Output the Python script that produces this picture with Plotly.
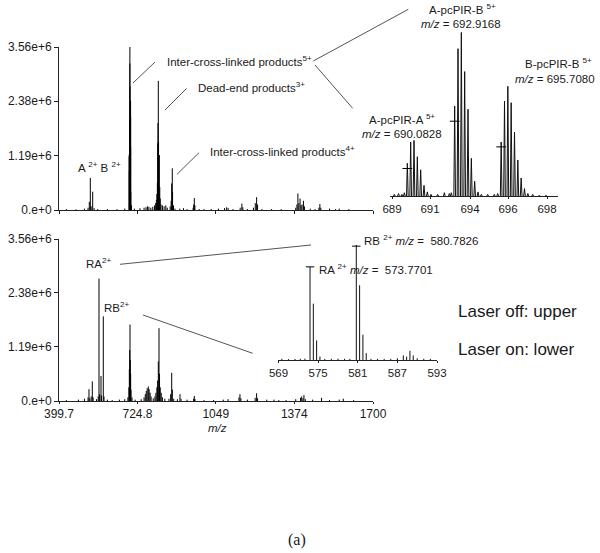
import plotly.graph_objects as go

W, H = 600, 553

# ---------------- DATA ----------------
# Upper main spectrum (laser off): m/z and intensity
UP_MZ = [430, 470, 505, 520, 525.2, 529.3, 533, 539.2, 545, 560, 600, 640, 672,
         690.3, 690.5, 690.7, 692.9, 693.1, 693.3, 693.5, 693.7, 695.7, 695.9, 696.1, 696.3, 696.5, 697.0, 700,
         712, 735, 752, 760, 766, 772, 780, 788, 795, 800, 803, 805, 807, 808.4, 809.5, 810.9, 812, 813.5, 815, 817,
         819, 822, 828, 835, 842, 848, 860, 864, 866.3, 868.8, 870, 873.8, 880, 900, 915, 930, 955, 957.5, 960,
         962.5, 980, 1000, 1030, 1060, 1085, 1094, 1100, 1120, 1150, 1157, 1161, 1180, 1205, 1212.5, 1218, 1222,
         1240, 1280, 1320, 1380, 1385, 1389, 1393, 1398, 1402, 1406, 1412, 1416, 1440, 1460, 1476, 1480, 1484,
         1520, 1545, 1560, 1600]
UP_INT = [0.02e6, 0.015e6, 0.03e6, 0.05e6, 0.18e6, 0.70e6, 0.08e6, 0.40e6, 0.04e6, 0.02e6, 0.02e6, 0.02e6, 0.03e6,
          1.17e6, 1.21e6, 0.85e6, 1.96e6, 3.20e6, 3.56e6, 2.70e6, 1.89e6, 1.17e6, 2.06e6, 2.39e6, 2.03e6, 1.39e6, 0.40e6, 0.10e6,
          0.03e6, 0.04e6, 0.05e6, 0.06e6, 0.08e6, 0.07e6, 0.05e6, 0.07e6, 0.10e6, 0.15e6, 0.22e6, 0.35e6, 0.60e6, 1.46e6, 1.90e6, 2.82e6, 1.50e6, 1.20e6, 1.20e6, 0.50e6,
          0.25e6, 0.12e6, 0.10e6, 0.08e6, 0.10e6, 0.05e6, 0.08e6, 0.20e6, 0.58e6, 0.91e6, 0.40e6, 0.10e6, 0.03e6, 0.03e6, 0.04e6, 0.02e6, 0.05e6, 0.12e6, 0.26e6,
          0.10e6, 0.02e6, 0.02e6, 0.02e6, 0.03e6, 0.04e6, 0.06e6, 0.04e6, 0.02e6, 0.05e6, 0.14e6, 0.06e6, 0.02e6, 0.05e6, 0.15e6, 0.28e6, 0.12e6,
          0.02e6, 0.02e6, 0.02e6, 0.05e6, 0.12e6, 0.36e6, 0.15e6, 0.25e6, 0.10e6, 0.12e6, 0.20e6, 0.08e6, 0.03e6, 0.02e6, 0.05e6, 0.13e6, 0.05e6,
          0.03e6, 0.02e6, 0.03e6, 0.02e6]

# Lower main spectrum (laser on)
LO_MZ = [430, 480, 505, 520, 523.9, 527, 533, 537.6, 541, 555, 562, 565.3, 568, 573.6, 576, 583.1, 586, 600, 620, 650,
         672, 685, 689, 691, 692.5, 693.7, 695, 696.5, 698, 702, 715, 740, 752, 757, 761, 765, 769.5, 773, 777, 781,
         790, 797, 801, 805, 808, 811, 813.8, 816, 819, 823, 828, 838, 855, 862, 866.4, 869, 875, 890, 900.7, 905,
         930, 957, 960, 963, 1000, 1040, 1080, 1100, 1145, 1149, 1153, 1180, 1212, 1218, 1222, 1260, 1290, 1310,
         1340, 1380, 1400, 1404.7, 1410, 1414, 1420, 1450, 1487, 1520, 1560, 1577, 1620]
LO_INT = [0.02e6, 0.03e6, 0.05e6, 0.08e6, 0.26e6, 0.06e6, 0.10e6, 0.43e6, 0.08e6, 0.04e6, 0.10e6, 2.69e6, 0.15e6, 0.55e6, 0.12e6, 1.86e6, 0.10e6, 0.03e6, 0.02e6, 0.03e6,
          0.04e6, 0.08e6, 0.30e6, 0.70e6, 1.12e6, 1.68e6, 0.90e6, 0.60e6, 0.25e6, 0.08e6, 0.03e6, 0.04e6, 0.08e6, 0.15e6, 0.22e6, 0.28e6, 0.32e6, 0.26e6, 0.18e6, 0.10e6,
          0.06e6, 0.10e6, 0.18e6, 0.30e6, 0.45e6, 0.87e6, 1.60e6, 0.60e6, 0.30e6, 0.18e6, 0.08e6, 0.05e6, 0.05e6, 0.15e6, 0.62e6, 0.25e6, 0.05e6, 0.04e6, 0.15e6, 0.05e6,
          0.03e6, 0.05e6, 0.11e6, 0.04e6, 0.02e6, 0.02e6, 0.03e6, 0.04e6, 0.08e6, 0.15e6, 0.06e6, 0.03e6, 0.07e6, 0.17e6, 0.06e6, 0.03e6, 0.03e6, 0.02e6,
          0.02e6, 0.04e6, 0.07e6, 0.10e6, 0.06e6, 0.13e6, 0.04e6, 0.03e6, 0.07e6, 0.02e6, 0.03e6, 0.05e6, 0.02e6]

# Upper inset: zoom of the 5+ cross-linked products (relative intensity %)
INS_UP_MZ = [689.3, 689.55, 689.75, 689.9, 690.08, 690.28, 690.48, 690.68, 690.88, 691.08, 691.28, 691.5, 691.9,
             692.3, 692.6, 692.72, 692.92, 693.12, 693.32, 693.52, 693.72, 693.92, 694.12, 694.32, 694.52, 694.9,
             695.3, 695.5, 695.71, 695.91, 696.11, 696.31, 696.51, 696.71, 696.91, 697.11, 697.31, 697.6, 698.0, 698.4]
INS_UP_INT = [1, 1.5, 1, 2, 20, 33, 34, 24, 16, 6.5, 2.5, 1, 1,
              2, 1.5, 2, 55, 90, 100, 76, 53, 23, 9, 2.5, 1, 1,
              1, 1.5, 33, 58, 67, 57, 39, 22, 11, 4.5, 1.5, 1, 0.5, 0.5]
INS_UP_MONO_MZ = [690.08, 692.92, 695.71]
INS_UP_MONO_INT = [16.8, 45.7, 30]
INS_UP_TICKVALS = [689.16, 691.44, 693.84, 696.12, 698.46]
INS_UP_TICKTEXT = ["689", "691", "694", "696", "698"]

# Lower inset: zoom of released peptides RA / RB (relative intensity %)
INS_LO_MZ = [569.5, 570.5, 571.5, 572.3, 573.0, 573.77, 574.27, 574.77, 575.27, 576.0, 577.0, 578.0, 579.0, 579.8,
             580.78, 581.28, 581.78, 582.28, 583.0, 584.0, 585.0, 586.0, 587.0, 587.9, 588.4, 588.9, 589.4, 590.0,
             591.0, 592.0]
INS_LO_INT = [1, 0.8, 1, 1, 1.2, 81, 49, 17, 3, 1, 1, 1.2, 1, 1,
              100, 65, 22, 6, 1, 1, 1, 1, 1.5, 4, 3, 8, 4, 1.5, 1, 1]
INS_LO_MONO_MZ = [573.77, 580.78]
INS_LO_MONO_INT = [81, 99]
INS_LO_TICKS = [569, 575, 581, 587, 593]

MAIN_XTICKS = [399.7, 724.8, 1049, 1374, 1700]
MAIN_XTEXT = ["399.7", "724.8", "1049", "1374", "1700"]
MAIN_YTICKS = [0, 1.19e6, 2.38e6, 3.56e6]
MAIN_YTEXT = ["0.e+0", "1.19e+6", "2.38e+6", "3.56e+6"]

# ---------------- HELPERS ----------------
def sticks(mz, inten):
    xs, ys = [], []
    for m, h in zip(mz, inten):
        xs += [m, m, None]
        ys += [0, h, None]
    return xs, ys

def spikes(mz, inten, hw):
    xs, ys = [], []
    for m, h in zip(mz, inten):
        xs += [m - hw, m, m + hw, None]
        ys += [0, h, 0, None]
    return xs, ys

def dx(px):
    return px / W

def dy(py):
    return 1 - py / H

FONT = "Liberation Sans, Arial, sans-serif"
TXT = "#1a1a1a"
AX = "#222222"

fig = go.Figure()

x, y = sticks(UP_MZ, UP_INT)
fig.add_trace(go.Scatter(x=x, y=y, mode="lines", line=dict(color="black", width=1),
                         xaxis="x", yaxis="y", hoverinfo="skip", showlegend=False))
x, y = sticks(LO_MZ, LO_INT)
fig.add_trace(go.Scatter(x=x, y=y, mode="lines", line=dict(color="black", width=1),
                         xaxis="x2", yaxis="y2", hoverinfo="skip", showlegend=False))
x, y = spikes(INS_UP_MZ, INS_UP_INT, 0.05)
fig.add_trace(go.Scatter(x=x, y=y, mode="lines", line=dict(color="#111111", width=1),
                         xaxis="x3", yaxis="y3", hoverinfo="skip", showlegend=False))
fig.add_trace(go.Scatter(x=INS_UP_MONO_MZ, y=INS_UP_MONO_INT, mode="markers",
                         marker=dict(symbol="line-ew", size=7, line=dict(color="black", width=1)),
                         xaxis="x3", yaxis="y3", hoverinfo="skip", showlegend=False))
x, y = sticks(INS_LO_MZ, INS_LO_INT)
fig.add_trace(go.Scatter(x=x, y=y, mode="lines", line=dict(color="#111111", width=1),
                         xaxis="x4", yaxis="y4", hoverinfo="skip", showlegend=False))
fig.add_trace(go.Scatter(x=INS_LO_MONO_MZ, y=INS_LO_MONO_INT, mode="markers",
                         marker=dict(symbol="line-ew", size=6, line=dict(color="black", width=1)),
                         xaxis="x4", yaxis="y4", hoverinfo="skip", showlegend=False))

axis_common = dict(showgrid=False, zeroline=False, showline=True, linecolor=AX, linewidth=1,
                   automargin=False,
                   ticks="outside", tickcolor=AX, tickfont=dict(family=FONT, size=12, color=TXT))

layout = dict(
    template="none",
    width=W, height=H, margin=dict(l=0, r=0, t=0, b=0, pad=0, autoexpand=False),
    paper_bgcolor="white", plot_bgcolor="rgba(0,0,0,0)", showlegend=False,
    xaxis=dict(axis_common, domain=[dx(59), dx(373)], range=[399.7, 1700], anchor="y",
               tickvals=MAIN_XTICKS, showticklabels=False, ticklen=3),
    yaxis=dict(axis_common, domain=[dy(210), dy(47)], range=[0, 3.56e6], anchor="x",
               tickvals=MAIN_YTICKS, ticktext=MAIN_YTEXT, ticklen=4),
    xaxis2=dict(axis_common, domain=[dx(59), dx(373)], range=[399.7, 1700], anchor="y2",
                tickvals=MAIN_XTICKS, ticktext=MAIN_XTEXT, ticklen=2),
    yaxis2=dict(axis_common, domain=[dy(401), dy(239)], range=[0, 3.56e6], anchor="x2",
                tickvals=MAIN_YTICKS, ticktext=MAIN_YTEXT, ticklen=4),
    xaxis3=dict(axis_common, domain=[dx(390), dx(558)], range=[689.04, 699.12], anchor="y3",
                tickvals=INS_UP_TICKVALS, ticktext=INS_UP_TICKTEXT, ticklen=2,
                tickfont=dict(family=FONT, size=11.5, color=TXT)),
    yaxis3=dict(domain=[dy(196), dy(32.3)], range=[0, 100], anchor="x3", visible=False),
    xaxis4=dict(axis_common, domain=[dx(278), dx(437)], range=[568.92, 593.0], anchor="y4",
                tickvals=INS_LO_TICKS, ticklen=2,
                tickfont=dict(family=FONT, size=11.5, color=TXT)),
    yaxis4=dict(domain=[dy(360), dy(245)], range=[0, 100], anchor="x4", visible=False),
)
fig.update_layout(**layout)

def note(text, px, py, xanchor="left", size=11.5, family=FONT):
    fig.add_annotation(text=text, x=dx(px), y=dy(py), xref="paper", yref="paper",
                       xanchor=xanchor, yanchor="middle", showarrow=False,
                       font=dict(family=family, size=size, color=TXT))

note("Inter-cross-linked products<sup>5+</sup>", 165, 60.7)
note("Dead-end products<sup>3+</sup>", 196, 86.7)
note("Inter-cross-linked products<sup>4+</sup>", 208, 151)
note("A <sup>2+</sup> B <sup>2+</sup>", 76, 166.7)
note("A-pcPIR-B <sup>5+</sup>", 462, 9, "center")
note("<i>m/z</i> = 692.9168", 461, 24.3, "center")
note("B-pcPIR-B <sup>5+</sup>", 558, 63.3, "center")
note("<i>m/z</i> = 695.7080", 555, 79, "center")
note("A-pcPIR-A <sup>5+</sup>", 401.7, 119, "center")
note("<i>m/z</i> = 690.0828", 401.7, 134.3, "center")
note("RA<sup>2+</sup>", 84, 263.3)
note("RB<sup>2+</sup>", 101.5, 307.3)
note("RB <sup>2+</sup> <i>m/z</i> =  580.7826", 361.5, 240)
note("RA <sup>2+</sup> <i>m/z</i> =  573.7701", 317, 269.3)
note("Laser off: upper", 456, 311.7, size=17)
note("Laser on: lower", 456, 349.3, size=17)
note("<i>m/z</i>", 217.7, 428, "center", size=11.5)
note("(a)", 297, 540, "center", size=16, family="Liberation Serif, Times New Roman, serif")

def seg(x0, y0, x1, y1):
    fig.add_shape(type="line", xref="paper", yref="paper",
                  x0=dx(x0), y0=dy(y0), x1=dx(x1), y1=dy(y1),
                  line=dict(color="#555555", width=1))

seg(133, 83, 155, 62)
seg(165, 110, 186.7, 88.3)
seg(177, 174.3, 199, 152.7)
seg(313.3, 61, 408.3, 9.3)
seg(315, 65, 352.7, 108.3)
seg(120, 264.3, 311, 245)
seg(143, 315, 252.7, 353.3)

fig.write_html("out.html", config={"displayModeBar": False},
               post_script="document.body.style.margin='0px';")
